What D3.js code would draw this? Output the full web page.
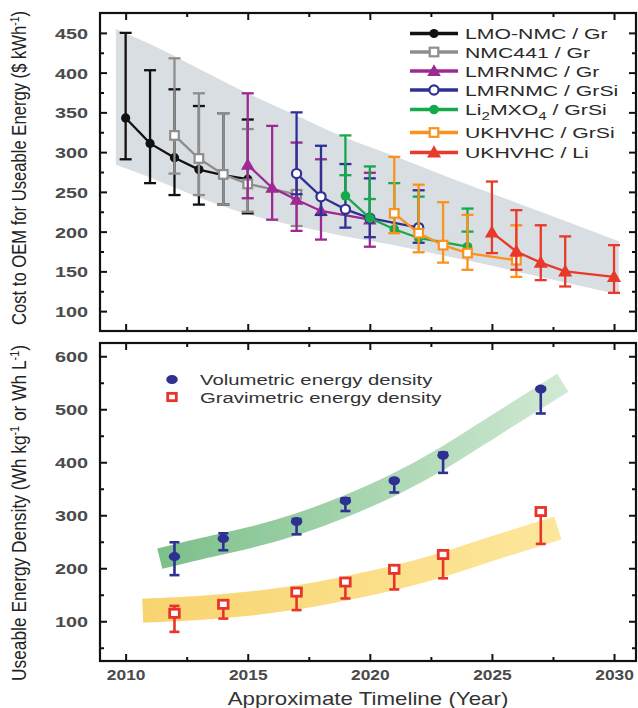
<!DOCTYPE html>
<html><head><meta charset="utf-8">
<script src="https://cdn.jsdelivr.net/npm/d3@7"></script>
<style>body{margin:0;background:#fff;} svg{display:block;}</style>
</head><body>
<svg id="c" width="638" height="708"></svg>
<script>
// ---------------- DATA ----------------
// Top panel: cost to OEM ($/kWh)
const lmoYears = [2010, 2011, 2012, 2013, 2014, 2015];
const lmoVal   = [343, 311, 293, 278, 271, 266];
const lmoLo    = [291, 261, 246, 234, 234, 223];
const lmoHi    = [450, 403, 379, 358, 349, 341];

const nmcYears = [2012, 2013, 2014, 2015, 2017];
const nmcVal   = [321, 292, 272, 260, 247];
const nmcLo    = [273, 246, 234, 225, 207];
const nmcHi    = [418, 374, 349, 329, 252];

const lmrGrYears = [2015, 2016, 2017, 2018, 2020];
const lmrGrVal   = [284, 255, 240, 226, 215];
const lmrGrLo    = [242, 215, 201, 190, 181];
const lmrGrHi    = [374, 333, 312, 291, 274];

const lmrSiYears = [2017, 2018, 2019, 2020, 2022];
const lmrSiVal   = [273, 244, 228, 217, 205];
const lmrSiLo    = [247, 221, 205, 193, 186];
const lmrSiHi    = [350, 308, 285, 267, 252];

const li2Years = [2019, 2020, 2021, 2022, 2024];
const li2Val   = [245, 217, 203, 192, 181];
const li2Lo    = [245, 217, 203, 192, 181];
const li2Hi    = [321, 282, 261, 244, 229];
const li2Mid   = [271, 241, null, null, 200];

const ukSiYears = [2021, 2022, 2023, 2024, 2026];
const ukSiVal   = [223, 198, 183, 173, 164];
const ukSiLo    = [198, 174, 161, 152, 143];
const ukSiHi    = [294, 259, 237, 221, 208];

const ukLiYears = [2025, 2026, 2027, 2028, 2030];
const ukLiVal   = [199, 175, 161, 150, 143];
const ukLiLo    = [173, 152, 139, 131, 123];
const ukLiHi    = [263, 227, 208, 194, 183];

const bandYears = [2009.6, 2011, 2013, 2015, 2017, 2019, 2021, 2023, 2025, 2027, 2030.2];
const bandHigh  = [455, 436, 405, 374, 346, 318, 295, 271, 248, 225, 188];
const bandLow   = [284, 268, 243, 222, 207, 194, 183, 170, 157, 143, 121];

const seriesNames = ["LMO-NMC / Gr", "NMC441 / Gr", "LMRNMC / Gr", "LMRNMC / GrSi", "Li2MXO4 / GrSi", "UKHVHC / GrSi", "UKHVHC / Li"];

// Bottom panel: useable energy density
const densYears = [2012, 2014, 2017, 2019, 2021, 2023, 2027];
const volVal  = [222, 256, 288, 327, 365, 413, 538];
const volLo   = [187, 234, 264, 308, 343, 380, 492];
const volHi   = [249, 266, 293, 332, 368, 418, 541];
const gravVal = [115, 132, 155, 174, 198, 226, 307];
const gravLo  = [80, 105, 121, 143, 160, 181, 246];
const gravHi  = [129, 136, 158, 178, 200, 229, 310];

const greenTrendYears = [2011.4, 2013, 2015, 2017, 2019, 2021, 2023, 2025, 2027.9];
const greenTrend      = [218, 236, 257, 283, 317, 358, 408, 466, 550];
const yellowTrendYears = [2010.7, 2013, 2015, 2017, 2019, 2021, 2023, 2025, 2027.7];
const yellowTrend      = [120, 125, 133, 145, 162, 182, 207, 237, 276];

const xMajor = [2010, 2015, 2020, 2025, 2030];
const xMinor = [2012.5, 2017.5, 2022.5, 2027.5];
const y1Major = [100, 150, 200, 250, 300, 350, 400, 450];
const y1Minor = [125, 175, 225, 275, 325, 375, 425];
const y2Major = [100, 200, 300, 400, 500, 600];
const y2Minor = [50, 150, 250, 350, 450, 550];

// ---------------- LAYOUT ----------------
const FONT = "'Liberation Sans', Arial, Helvetica, sans-serif";
const L = 100, R = 636, T1 = 13, B1 = 331, T2 = 343, B2 = 661;
const svg = d3.select('#c');
const x  = d3.scaleLinear().domain([2008.95, 2030.9]).range([L, R]);
const y1 = d3.scaleLinear().domain([75, 475]).range([B1, T1]);
const y2 = d3.scaleLinear().domain([25, 625]).range([B2, T2]);

const defs = svg.append('defs');
defs.append('clipPath').attr('id','cp1').append('rect').attr('x',L).attr('y',T1).attr('width',R-L).attr('height',B1-T1);
defs.append('clipPath').attr('id','cp2').append('rect').attr('x',L).attr('y',T2).attr('width',R-L).attr('height',B2-T2);
const gGreen = defs.append('linearGradient').attr('id','gGreen').attr('gradientUnits','userSpaceOnUse')
  .attr('x1', x(2011.4)).attr('x2', x(2027.9)).attr('y1',0).attr('y2',0);
gGreen.append('stop').attr('offset',0).attr('stop-color','#7cc08a');
gGreen.append('stop').attr('offset',1).attr('stop-color','#d0e9d3');
const gYel = defs.append('linearGradient').attr('id','gYel').attr('gradientUnits','userSpaceOnUse')
  .attr('x1', x(2010.7)).attr('x2', x(2027.7)).attr('y1',0).attr('y2',0);
gYel.append('stop').attr('offset',0).attr('stop-color','#f8d470');
gYel.append('stop').attr('offset',1).attr('stop-color','#fde79c');

function stxt(g, px, py, str, o) {
  const t = g.append('text')
    .attr('transform', `translate(${px},${py}) scale(${o.sx||1},1)` + (o.rot ? ' rotate(-90)' : ''))
    .attr('font-family', FONT).attr('font-size', o.size).attr('fill', o.fill || '#222')
    .attr('font-weight', o.weight || 'normal').attr('text-anchor', o.anchor || 'start');
  if (o.len) t.attr('textLength', o.len).attr('lengthAdjust', 'spacingAndGlyphs');
  if (typeof str === 'string') t.text(str);
  else str.forEach(p => { const s = t.append('tspan').text(p.t); if (p.dy) s.attr('dy', p.dy); if (p.fs) s.attr('font-size', p.fs); });
  return t;
}

function marker(g, type, cx, cy, color, s) {
  if (type === 'circle') g.append('circle').attr('cx',cx).attr('cy',cy).attr('r',s).attr('fill',color);
  else if (type === 'ocircle') g.append('circle').attr('cx',cx).attr('cy',cy).attr('r',s).attr('fill','#fff').attr('stroke',color).attr('stroke-width',2.2);
  else if (type === 'osquare') g.append('rect').attr('x',cx-s).attr('y',cy-s).attr('width',2*s).attr('height',2*s).attr('fill','#fff').attr('stroke',color).attr('stroke-width',2.2);
  else if (type === 'tri') g.append('path').attr('d', d3.symbol().type(d3.symbolTriangle).size(s*s*3.2)()).attr('transform',`translate(${cx},${cy+1})`).attr('fill',color);
  else if (type === 'ell') g.append('ellipse').attr('cx',cx).attr('cy',cy).attr('rx',s*1.15).attr('ry',s*0.9).attr('fill',color);
  else if (type === 'sq2') g.append('rect').attr('x',cx-s).attr('y',cy-s*0.85).attr('width',2*s).attr('height',1.7*s).attr('fill','#fff').attr('stroke',color).attr('stroke-width',2.8);
}

function errBars(g, ys, yrs, lo, hi, color, cw, sw, mid) {
  const gg = g.append('g').attr('stroke', color).attr('stroke-width', sw).attr('fill','none');
  yrs.forEach((yr, i) => {
    const cx = x(yr);
    gg.append('line').attr('x1',cx).attr('x2',cx).attr('y1',ys(lo[i])).attr('y2',ys(hi[i]));
    const caps = [hi[i]];
    if (!(mid && lo[i] === mid.val[i])) caps.push(lo[i]);
    if (mid && mid.arr[i] != null) caps.push(mid.arr[i]);
    caps.forEach(v => gg.append('line').attr('x1',cx-cw).attr('x2',cx+cw).attr('y1',ys(v)).attr('y2',ys(v)));
  });
}

// ---------------- TOP PANEL ----------------
const p1 = svg.append('g').attr('clip-path','url(#cp1)');
const band = bandYears.map((yr,i) => ({yr, lo: bandLow[i], hi: bandHigh[i]}));
p1.append('path').datum(band)
  .attr('d', d3.area().x(d => x(d.yr)).y0(d => y1(d.lo)).y1(d => y1(d.hi)).curve(d3.curveMonotoneX))
  .attr('fill', '#d9dee3');

const series = [
  {yrs: lmoYears, val: lmoVal, lo: lmoLo, hi: lmoHi, color: '#111111', m: 'circle', s: 4.6},
  {yrs: nmcYears, val: nmcVal, lo: nmcLo, hi: nmcHi, color: '#8e8e8e', m: 'osquare', s: 4.3},
  {yrs: lmrGrYears, val: lmrGrVal, lo: lmrGrLo, hi: lmrGrHi, color: '#9c2a92', m: 'tri', s: 5},
  {yrs: lmrSiYears, val: lmrSiVal, lo: lmrSiLo, hi: lmrSiHi, color: '#2e3192', m: 'ocircle', s: 4.6},
  {yrs: li2Years, val: li2Val, lo: li2Lo, hi: li2Hi, color: '#16a94b', m: 'circle', s: 4.8, mid: li2Mid},
  {yrs: ukSiYears, val: ukSiVal, lo: ukSiLo, hi: ukSiHi, color: '#f7931e', m: 'osquare', s: 4.3},
  {yrs: ukLiYears, val: ukLiVal, lo: ukLiLo, hi: ukLiHi, color: '#e8392b', m: 'tri', s: 5.2}
];
series.forEach(S => {
  errBars(p1, y1, S.yrs, S.lo, S.hi, S.color, 6, 2.3, S.mid ? {arr: S.mid, val: S.val} : null);
  const pts = S.yrs.map((yr,i) => [x(yr), y1(S.val[i])]);
  p1.append('path').attr('d', d3.line()(pts)).attr('fill','none').attr('stroke',S.color).attr('stroke-width',2.3);
  pts.forEach(p => marker(p1, S.m, p[0], p[1], S.color, S.s));
});

// legend (top)
const legY = [33.5, 52, 71, 90, 109.5, 132.5, 152.5];
series.forEach((S, i) => {
  const ly = legY[i];
  svg.append('line').attr('x1',410).attr('x2',458).attr('y1',ly).attr('y2',ly).attr('stroke',S.color).attr('stroke-width',3.4);
  marker(svg, S.m, 434, ly, S.color, S.s);
  const nm = seriesNames[i];
  let parts = nm;
  if (nm.startsWith('Li2MXO4')) parts = [{t:'Li'},{t:'2',dy:5,fs:11},{t:'MXO',dy:-5},{t:'4',dy:5,fs:11},{t:' / GrSi',dy:-5}];
  stxt(svg, 465, ly + 5.5, parts, {size: 15.5, sx: 1.37, fill: '#2a2a2a'});
});

// ---------------- BOTTOM PANEL ----------------
const p2 = svg.append('g').attr('clip-path','url(#cp2)');
const ln = d3.line().curve(d3.curveNatural);
p2.append('path').attr('d', ln(greenTrendYears.map((yr,i)=>[x(yr), y2(greenTrend[i])])))
  .attr('fill','none').attr('stroke','url(#gGreen)').attr('stroke-width',21).attr('stroke-linecap','butt');
p2.append('path').attr('d', ln(yellowTrendYears.map((yr,i)=>[x(yr), y2(yellowTrend[i])])))
  .attr('fill','none').attr('stroke','url(#gYel)').attr('stroke-width',24).attr('stroke-linecap','butt');

errBars(p2, y2, densYears, volLo, volHi, '#2e3192', 5, 2.6, null);
densYears.forEach((yr,i) => marker(p2, 'ell', x(yr), y2(volVal[i]), '#2e3192', 5));
errBars(p2, y2, densYears, gravLo, gravHi, '#e8342a', 5, 2.6, null);
densYears.forEach((yr,i) => marker(p2, 'sq2', x(yr), y2(gravVal[i]), '#e8342a', 4.8));

// legend (bottom)
marker(svg, 'ell', 172, 379.5, '#2e3192', 5);
marker(svg, 'sq2', 172, 397, '#e8342a', 4.3);
stxt(svg, 200, 385, 'Volumetric energy density', {size: 15.5, sx: 1.31, fill: '#333'});
stxt(svg, 200, 403, 'Gravimetric energy density', {size: 15.5, sx: 1.31, fill: '#333'});

// ---------------- AXES ----------------
function styleAxis(g) {
  g.select('.domain').remove();
  g.selectAll('.tick line').attr('stroke','#111').attr('stroke-width',2);
}
function panelAxes(T, B, ys, yMaj, yMin, labelsX) {
  const ab = svg.append('g').attr('transform',`translate(0,${B})`)
    .call(d3.axisBottom(x).tickValues(xMajor).tickSize(-7).tickFormat(labelsX ? d3.format('d') : ''));
  styleAxis(ab);
  ab.selectAll('.tick text').attr('y',null).attr('dy',null)
    .attr('transform','translate(0,19) scale(1.12,1)').attr('font-family',FONT).attr('font-size',15.5)
    .attr('font-weight','bold').attr('fill','#4a4a4a');
  styleAxis(svg.append('g').attr('transform',`translate(0,${B})`).call(d3.axisBottom(x).tickValues(xMinor).tickSize(-4).tickFormat('')));
  styleAxis(svg.append('g').attr('transform',`translate(0,${T})`).call(d3.axisTop(x).tickValues(xMajor).tickSize(-7).tickFormat('')));
  styleAxis(svg.append('g').attr('transform',`translate(0,${T})`).call(d3.axisTop(x).tickValues(xMinor).tickSize(-4).tickFormat('')));
  const al = svg.append('g').attr('transform',`translate(${L},0)`)
    .call(d3.axisLeft(ys).tickValues(yMaj).tickSize(-7).tickFormat(d3.format('d')));
  styleAxis(al);
  al.selectAll('.tick text').attr('x',null).attr('dy',null)
    .attr('transform','translate(-12,5.5) scale(1.28,1)').attr('font-family',FONT).attr('font-size',15.5)
    .attr('font-weight','bold').attr('fill','#4a4a4a').attr('text-anchor','end');
  styleAxis(svg.append('g').attr('transform',`translate(${L},0)`).call(d3.axisLeft(ys).tickValues(yMin).tickSize(-4).tickFormat('')));
  styleAxis(svg.append('g').attr('transform',`translate(${R},0)`).call(d3.axisRight(ys).tickValues(yMaj).tickSize(-7).tickFormat('')));
  styleAxis(svg.append('g').attr('transform',`translate(${R},0)`).call(d3.axisRight(ys).tickValues(yMin).tickSize(-4).tickFormat('')));
  svg.append('rect').attr('x',L).attr('y',T).attr('width',R-L).attr('height',B-T)
    .attr('fill','none').attr('stroke','#111').attr('stroke-width',2.2);
}
panelAxes(T1, B1, y1, y1Major, y1Minor, false);
panelAxes(T2, B2, y2, y2Major, y2Minor, true);

// axis titles
stxt(svg, 368, 705, 'Approximate Timeline (Year)', {size: 18, sx: 1.24, anchor: 'middle', fill: '#333'});
stxt(svg, 26, 168, [{t:'Cost to OEM for Useable Energy ($ kWh'},{t:'-1',dy:-6,fs:10},{t:')',dy:6}],
  {size: 16, sx: 1.25, rot: true, anchor: 'middle', len: 314, fill: '#222'});
stxt(svg, 26, 513, [{t:'Useable Energy Density (Wh kg'},{t:'-1',dy:-6,fs:10},{t:' or Wh L',dy:6},{t:'-1',dy:-6,fs:10},{t:')',dy:6}],
  {size: 16, sx: 1.25, rot: true, anchor: 'middle', len: 336, fill: '#222'});
</script>
</body></html>
